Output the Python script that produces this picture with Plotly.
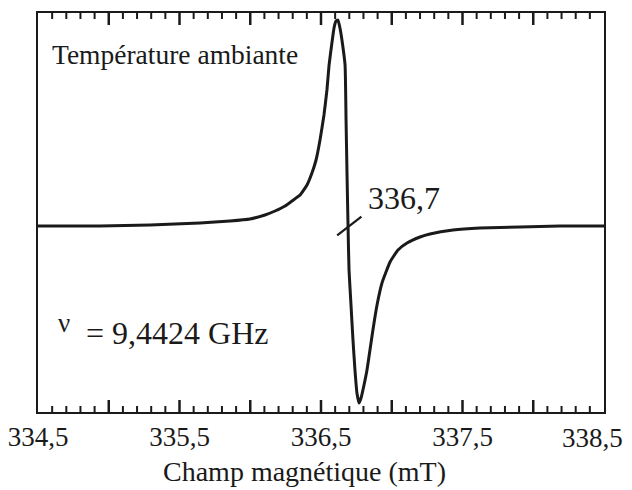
import plotly.graph_objects as go

# EPR derivative spectrum recorded at room temperature
field_mT = [334.500, 334.938, 335.292, 335.645, 335.857, 335.998, 336.104, 336.175,
            336.246, 336.295, 336.352, 336.401, 336.436, 336.465, 336.493, 336.521,
            336.542, 336.557, 336.578, 336.592, 336.606, 336.620, 336.634, 336.648,
            336.670, 336.677, 336.684, 336.691, 336.698, 336.712, 336.726, 336.740,
            336.754, 336.769, 336.783, 336.804, 336.825, 336.846, 336.867, 336.896,
            336.931, 336.988, 337.044, 337.108, 337.200, 337.270, 337.433, 337.624,
            337.906, 338.189, 338.500]
signal = [0, 0, 1, 3, 5, 7, 11, 15,
          20, 25, 31, 41, 53, 66, 86, 111,
          136, 161, 184, 198, 205, 206, 198, 186,
          161, 106, 51, 0, -44, -79, -114, -144,
          -167, -177, -172, -159, -144, -124, -104, -79,
          -57, -36, -24, -17, -11, -8, -4, -2,
          -1, 0, 0]

center_field = 336.7
major_ticks = [334.5, 335.0, 335.5, 336.0, 336.5, 337.0, 337.5, 338.0, 338.5]
major_text = ["334,5", "", "335,5", "", "336,5", "", "337,5", "", ""]
last_label = "338,5"   # set at the right end, pulled inside the page
minor_step = 0.1

FONT = "Liberation Serif"
INK = "#1a1a1a"

W, H = 632, 490
M = dict(l=38, r=28, t=13, b=78)
x_range = [334.5, 338.5]
y_range = [-186, 213]
units_per_px = (y_range[1] - y_range[0]) / (H - M["t"] - M["b"])

fig = go.Figure()
fig.add_trace(go.Scatter(
    x=field_mT, y=signal, mode="lines",
    line=dict(color=INK, width=3, shape="spline", smoothing=0.4),
    hoverinfo="skip", showlegend=False,
))
# small slanted mark at the resonance centre
fig.add_trace(go.Scatter(
    x=[center_field], y=[0], mode="markers",
    marker=dict(symbol="line-ew", size=22, angle=-38,
                line=dict(color=INK, width=2.2)),
    hoverinfo="skip", showlegend=False,
))

# inward tick marks along the bottom and top edges of the frame
n_minor = int(round((x_range[1] - x_range[0]) / minor_step))
all_ticks = [round(x_range[0] + i * minor_step, 3) for i in range(1, n_minor)]
inner_major = [v for v in all_ticks if any(abs(v - m) < 1e-6 for m in major_ticks)]
inner_minor = [v for v in all_ticks if v not in inner_major]
for ticks, length, width in ((inner_major, 10, 2.5), (inner_minor, 5, 2.0)):
    half = length / 2 * units_per_px
    xs = ticks + ticks
    ys = [y_range[0] + half] * len(ticks) + [y_range[1] - half] * len(ticks)
    fig.add_trace(go.Scatter(
        x=xs, y=ys, mode="markers", cliponaxis=False,
        marker=dict(symbol="line-ns", size=length, line=dict(color=INK, width=width)),
        hoverinfo="skip", showlegend=False,
    ))

fig.update_layout(
    template="none",
    width=W, height=H,
    margin=dict(**M, autoexpand=False),
    paper_bgcolor="white", plot_bgcolor="white",
    font=dict(family=FONT, color=INK),
    xaxis=dict(
        range=x_range, showgrid=False, zeroline=False, automargin=False,
        showline=True, linecolor=INK, linewidth=1.6, mirror=True,
        tickmode="array", tickvals=major_ticks, ticktext=major_text, ticks="",
        tickfont=dict(family=FONT, size=27, color=INK),
    ),
    yaxis=dict(
        range=y_range, showgrid=False, zeroline=False, automargin=False,
        showline=True, linecolor=INK, linewidth=1.6, mirror=True,
        showticklabels=False, ticks="",
    ),
    annotations=[
        dict(text=last_label, x=major_ticks[-1], y=-0.066, xref="x", yref="paper",
             xanchor="right", yanchor="middle", showarrow=False, xshift=21,
             font=dict(family=FONT, size=27, color=INK)),
        dict(text="Champ magnétique (mT)", x=0.471, y=-0.148, xref="paper", yref="paper",
             xanchor="center", yanchor="middle", showarrow=False,
             font=dict(family=FONT, size=28, color=INK)),
        dict(text="Température ambiante", x=0.022, y=0.895, xref="paper", yref="paper",
             xanchor="left", yanchor="middle", showarrow=False,
             font=dict(family=FONT, size=27.5, color=INK)),
        dict(text="336,7", x=0.579, y=0.537, xref="paper", yref="paper",
             xanchor="left", yanchor="middle", showarrow=False,
             font=dict(family=FONT, size=32, color=INK)),
        dict(text="ν", x=0.031, y=0.222, xref="paper", yref="paper",
             xanchor="left", yanchor="middle", showarrow=False,
             font=dict(family=FONT, size=27, color=INK)),
        dict(text="= 9,4424 GHz", x=0.081, y=0.198, xref="paper", yref="paper",
             xanchor="left", yanchor="middle", showarrow=False,
             font=dict(family=FONT, size=32, color=INK)),
    ],
)

fig.write_html("out.html")
